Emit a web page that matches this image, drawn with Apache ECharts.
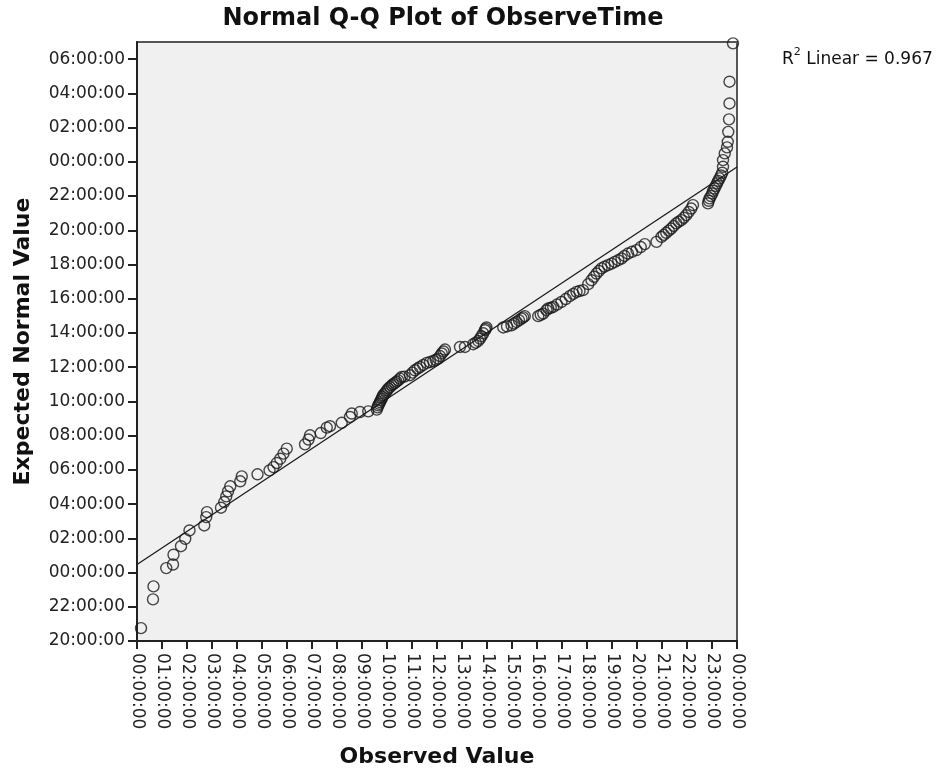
<!DOCTYPE html>
<html>
<head>
<meta charset="utf-8">
<title>Normal Q-Q Plot of ObserveTime</title>
<script src="https://cdn.jsdelivr.net/npm/echarts@6/dist/echarts.min.js"></script>
<style>
  html, body { margin: 0; padding: 0; background: #fff; }
  #chart { width: 946px; height: 768px; }
</style>
</head>
<body>
<div id="chart"></div>
<script>
// observed time of day (hours) and expected normal value (hours, can go below 0 / past 24)
const observed = [
  0.16, 0.64, 0.66, 1.17, 1.44, 1.46, 1.76, 1.93, 2.10, 2.69,
  2.77, 2.80, 3.36, 3.49, 3.57, 3.64, 3.73, 4.13, 4.19, 4.82,
  5.30, 5.46, 5.59, 5.73, 5.86, 5.99, 6.72, 6.86, 6.92, 7.35,
  7.59, 7.72, 8.19, 8.52, 8.59, 8.92, 9.25, 9.59, 9.62, 9.65,
  9.69, 9.72, 9.75, 9.79, 9.82, 9.85, 9.90, 9.96, 10.00, 10.05,
  10.12, 10.19, 10.25, 10.32, 10.38, 10.45, 10.52, 10.59, 10.70, 10.92,
  11.02, 11.12, 11.22, 11.32, 11.45, 11.59, 11.72, 11.85, 11.95, 12.05,
  12.12, 12.19, 12.26, 12.32, 12.92, 13.12, 13.45, 13.55, 13.65, 13.72,
  13.78, 13.85, 13.92, 13.95, 13.98, 14.65, 14.80, 14.98, 15.08, 15.18,
  15.28, 15.38, 15.45, 15.51, 16.05, 16.15, 16.25, 16.38, 16.45, 16.55,
  16.65, 16.80, 16.98, 17.15, 17.31, 17.45, 17.58, 17.70, 17.84, 18.05,
  18.18, 18.28, 18.38, 18.48, 18.58, 18.70, 18.84, 18.98, 19.11, 19.25,
  19.38, 19.50, 19.64, 19.80, 19.98, 20.15, 20.31, 20.78, 20.98, 21.07,
  21.17, 21.27, 21.37, 21.47, 21.57, 21.67, 21.77, 21.87, 21.97, 22.07,
  22.17, 22.24, 22.84, 22.87, 22.90, 22.96, 23.01, 23.05, 23.10, 23.15,
  23.20, 23.25, 23.30, 23.36, 23.41, 23.44, 23.44, 23.51, 23.60, 23.63,
  23.65, 23.68, 23.70, 23.70, 23.84
];
const expected = [
  -3.25, -1.57, -0.81, 0.26, 0.47, 1.04, 1.54, 1.97, 2.46, 2.75,
  3.24, 3.53, 3.79, 4.12, 4.45, 4.74, 5.04, 5.33, 5.62, 5.74,
  5.97, 6.16, 6.40, 6.65, 6.95, 7.24, 7.49, 7.77, 8.02, 8.15,
  8.47, 8.55, 8.75, 9.09, 9.29, 9.38, 9.42, 9.52, 9.65, 9.77,
  9.86, 9.96, 10.06, 10.16, 10.26, 10.36, 10.45, 10.55, 10.65, 10.75,
  10.84, 10.94, 11.01, 11.08, 11.15, 11.23, 11.33, 11.43, 11.45, 11.53,
  11.68, 11.82, 11.92, 12.01, 12.13, 12.25, 12.30, 12.36, 12.43, 12.50,
  12.65, 12.80, 12.92, 13.03, 13.18, 13.18, 13.34, 13.43, 13.53, 13.67,
  13.81, 13.98, 14.16, 14.24, 14.32, 14.32, 14.38, 14.45, 14.55, 14.64,
  14.74, 14.84, 14.91, 14.98, 14.98, 15.06, 15.13, 15.33, 15.43, 15.47,
  15.52, 15.66, 15.81, 15.98, 16.15, 16.28, 16.40, 16.45, 16.50, 16.85,
  17.08, 17.28, 17.47, 17.62, 17.77, 17.87, 17.96, 18.05, 18.15, 18.25,
  18.35, 18.50, 18.64, 18.74, 18.84, 19.02, 19.19, 19.32, 19.61, 19.73,
  19.85, 19.98, 20.10, 20.25, 20.40, 20.50, 20.59, 20.73, 20.88, 21.07,
  21.27, 21.47, 21.57, 21.72, 21.86, 22.00, 22.15, 22.30, 22.44, 22.59,
  22.74, 22.88, 23.03, 23.20, 23.36, 23.71, 24.10, 24.49, 24.84, 25.17,
  25.75, 26.48, 27.41, 28.68, 30.92
];
const fitX = [0, 24];
const fitY = [0.47, 23.7];
const xTicks = [0, 1, 2, 3, 4, 5, 6, 7, 8, 9, 10, 11, 12, 13, 14, 15, 16, 17, 18, 19, 20, 21, 22, 23, 24];
const yTicks = [-4, -2, 0, 2, 4, 6, 8, 10, 12, 14, 16, 18, 20, 22, 24, 26, 28, 30];
const rSquared = "0.967";

const FONT = "DejaVu Sans";

const hms = (h) => {
  const v = ((Math.round(h) % 24) + 24) % 24;
  return String(v).padStart(2, "0") + ":00:00";
};

const points = observed.map((x, i) => [x, expected[i]]);
const line = fitX.map((x, i) => [x, fitY[i]]);

const chart = echarts.init(document.getElementById("chart"));

chart.setOption({
  animation: false,
  grid: {
    left: 137,
    right: 209,
    top: 42,
    bottom: 127,
    outerBoundsMode: "none",
    show: true,
    backgroundColor: "#f0f0f0",
    borderColor: "#555",
    borderWidth: 2,
  },
  xAxis: {
    type: "value",
    min: 0,
    max: 24,
    interval: 1,
    name: "Observed Value",
    nameLocation: "middle",
    nameGap: 105,
    nameTextStyle: { fontFamily: FONT, fontWeight: "bold", fontSize: 22, color: "#111" },
    axisLine: { onZero: false, lineStyle: { color: "#222", width: 2 } },
    axisTick: { length: 8, customValues: xTicks, lineStyle: { color: "#222", width: 2 } },
    axisLabel: {
      customValues: xTicks,
      rotate: -90,
      margin: 12,
      formatter: hms,
      fontFamily: FONT,
      fontSize: 17,
      color: "#222",
    },
    splitLine: { show: false },
  },
  yAxis: {
    type: "value",
    min: -4,
    max: 31,
    name: "Expected Normal Value",
    nameLocation: "middle",
    nameGap: 103,
    nameTextStyle: { fontFamily: FONT, fontWeight: "bold", fontSize: 22, color: "#111" },
    axisLine: { onZero: false, lineStyle: { color: "#222", width: 2 } },
    axisTick: { length: 9, customValues: yTicks, lineStyle: { color: "#222", width: 2 } },
    axisLabel: {
      customValues: yTicks,
      margin: 12,
      formatter: hms,
      fontFamily: FONT,
      fontSize: 17,
      color: "#222",
    },
    splitLine: { show: false },
  },
  graphic: [
    {
      type: "text",
      x: 443,
      y: 7,
      style: {
        text: "Normal Q-Q Plot of ObserveTime",
        align: "center",
        verticalAlign: "top",
        fontFamily: FONT,
        fontWeight: "bold",
        fontSize: 24,
        fill: "#111",
      },
    },
    {
      type: "text",
      x: 782,
      y: 47,
      style: {
        text: "{r|R}{s|2}{r| Linear = " + rSquared + "}",
        align: "left",
        verticalAlign: "top",
        rich: {
          r: { fontFamily: FONT, fontSize: 17, fill: "#111", lineHeight: 21, verticalAlign: "bottom" },
          s: { fontFamily: FONT, fontSize: 11, fill: "#111", lineHeight: 21, verticalAlign: "top" },
        },
      },
    },
  ],
  series: [
    {
      type: "line",
      data: line,
      symbol: "none",
      lineStyle: { color: "#1a1a1a", width: 1.3 },
      z: 2,
    },
    {
      type: "scatter",
      data: points,
      symbol: "circle",
      symbolSize: 11,
      itemStyle: { color: "rgba(0,0,0,0)", borderColor: "#1a1a1a", borderWidth: 1.4 },
      z: 3,
    },
  ],
});
</script>
</body>
</html>
